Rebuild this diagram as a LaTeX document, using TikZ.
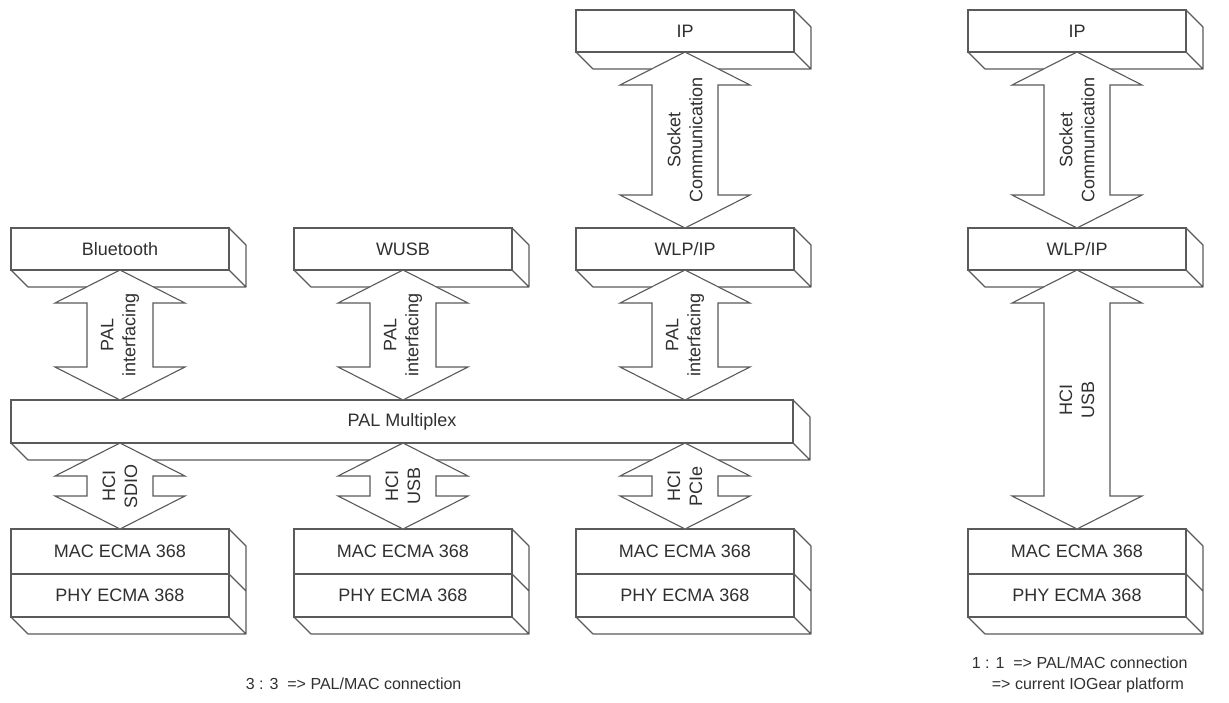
\documentclass[tikz,border=0pt]{standalone}
\usepackage{fontspec}
\setmainfont{Liberation Sans}
\usetikzlibrary{positioning,calc}
\definecolor{ln}{HTML}{5A5A5A}
\definecolor{tx}{HTML}{303030}
% side and underside of a flat box
\newcommand\slab[1]{\draw[fc] (#1.north east)--++(17,17)--($(#1.south east)+(17,17)$)--(#1.south east)
  (#1.south west)--++(17,17)--($(#1.south east)+(17,17)$);}
% same for two boxes stacked on each other
\newcommand\stk[2]{\draw[fc] (#1.north east)--++(17,17)--($(#2.south east)+(17,17)$)--(#2.south east)
  (#1.south east)--++(17,17) (#2.south west)--++(17,17)--($(#2.south east)+(17,17)$);}
% white double block arrow between two anchors, label turned upright
\newcommand\dbl[3]{\draw[ar] (#1)--($(#1)+(65,33)$)--($(#1)+(33,33)$)--($(#2)+(33,-33)$)--($(#2)+(65,-33)$)--(#2)
  --($(#2)+(-65,-33)$)--($(#2)+(-33,-33)$)--($(#1)+(-33,33)$)--($(#1)+(-65,33)$)--cycle;
  \path (#1)--node[lb]{#3}(#2);}
\begin{document}
\begin{tikzpicture}[x=1pt,y=-1pt,font=\fontsize{18}{22}\selectfont,line width=1.1pt,
  sl/.style={draw=ln,fill=white,text=tx,minimum width=218pt,minimum height=42pt,inner sep=0pt,outer sep=0pt},
  fc/.style={draw=ln,line join=round},
  ar/.style={draw=ln,fill=white,line join=miter},
  lb/.style={rotate=90,align=center,text=tx},
  cp/.style={anchor=base west,text=tx,font=\fontsize{16}{19}\selectfont}]
  \useasboundingbox (0,0) rectangle (1229,702);
  % upper layers
  \node[sl] (bt) at (120,249) {Bluetooth};
  \node[sl,right=65pt of bt] (wusb) {WUSB};
  \node[sl,right=64pt of wusb] (wlp) {WLP/IP};
  \node[sl,right=174pt of wlp] (wlpr) {WLP/IP};
  \node[sl,above=176pt of wlp] (ip) {IP};
  \node[sl,above=176pt of wlpr] (ipr) {IP};
  % multiplexer over the three left columns
  \node[sl,minimum width=782pt,minimum height=43pt,below=130pt of bt.south west,anchor=north west] (mux) {PAL Multiplex};
  % MAC/PHY under each column
  \foreach \c/\n in {bt/1,wusb/2,wlp/3,wlpr/4}{
    \node[sl,minimum height=45pt,below=259pt of \c] (mac\n) {MAC ECMA 368};
    \node[sl,minimum height=43pt,below=0pt of mac\n] (phy\n) {PHY ECMA 368};
    \stk{mac\n}{phy\n}}
  \foreach \n in {bt,wusb,wlp,wlpr,ip,ipr,mux}{\slab{\n}}
  % links
  \dbl{bt.south}{bt.south |- mux.north}{PAL\\interfacing}
  \dbl{wusb.south}{wusb.south |- mux.north}{PAL\\interfacing}
  \dbl{wlp.south}{wlp.south |- mux.north}{PAL\\interfacing}
  \dbl{ip.south}{wlp.north}{Socket\\Communication}
  \dbl{ipr.south}{wlpr.north}{Socket\\Communication}
  \dbl{mac1.north |- mux.south}{mac1.north}{HCI\\SDIO}
  \dbl{mac2.north |- mux.south}{mac2.north}{HCI\\USB}
  \dbl{mac3.north |- mux.south}{mac3.north}{HCI\\PCIe}
  \dbl{wlpr.south}{mac4.north}{HCI\\USB}
  % notes
  \node[cp] (n33) at (242,689) {3 : 3~~=> PAL/MAC connection};
  \node[cp] (n11) at (968,668) {1 : 1~~=> PAL/MAC connection};
  \node[cp] (niog) at (988,689) {=> current IOGear platform};
\end{tikzpicture}
\end{document}
